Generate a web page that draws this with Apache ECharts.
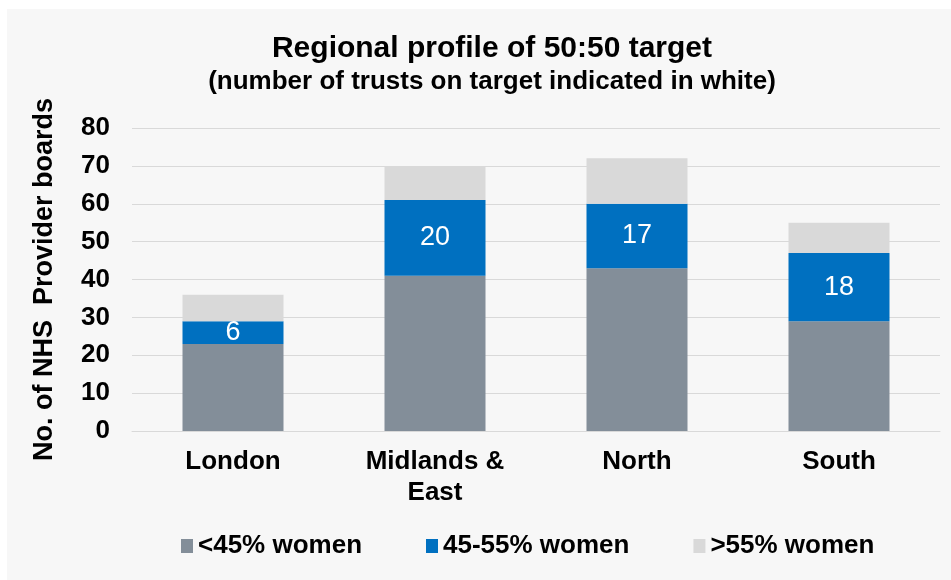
<!DOCTYPE html>
<html>
<head>
<meta charset="utf-8">
<script src="https://cdn.jsdelivr.net/npm/echarts@6/dist/echarts.min.js"></script>
<style>
  body { margin: 0; background: #ffffff; }
  #panel { position: absolute; left: 7px; top: 9px; width: 944px; height: 571px; background: #f7f7f7; }
  #main { position: absolute; left: 0; top: 0; width: 951px; height: 580px; }
</style>
</head>
<body>
<div id="panel"></div>
<div id="main"></div>
<script>
// regions and boards per band
let regions = ["London", "Midlands &\nEast", "North", "South"];
let below45 = [23, 41, 43, 29];
let onTarget = [6, 20, 17, 18];
let above55 = [7, 9, 12, 8];
let seriesNames = ["<45% women", "45-55% women", ">55% women"];
let yTicks = [0, 10, 20, 30, 40, 50, 60, 70, 80];

let chart = echarts.init(document.getElementById("main"));
let font = "Liberation Sans, Arial, sans-serif";

let option = {
    animation: false,
    textStyle: {fontFamily: font},
    title: {
        text: "Regional profile of 50:50 target",
        subtext: "(number of trusts on target indicated in white)",
        left: 487,
        textAlign: "center",
        top: 29,
        itemGap: 5,
        textStyle: {fontSize: 30, fontWeight: "bold", color: "#000", fontFamily: font},
        subtextStyle: {fontSize: 26, fontWeight: "bold", color: "#000", fontFamily: font}
    },
    legend: {
        data: seriesNames,
        left: 176,
        top: 528,
        itemWidth: 12,
        itemHeight: 14,
        itemGap: 64,
        icon: "rect",
        textStyle: {fontSize: 26, fontWeight: "bold", color: "#000", fontFamily: font}
    },
    grid: {left: 132, right: 11, top: 128, bottom: 149},
    xAxis: {
        type: "category",
        data: regions,
        axisTick: {show: false},
        axisLine: {lineStyle: {color: "#d9d9d9"}},
        axisLabel: {fontSize: 26, fontWeight: "bold", color: "#000", margin: 15, lineHeight: 31, fontFamily: font}
    },
    yAxis: {
        type: "value",
        min: yTicks[0],
        max: yTicks[yTicks.length - 1],
        interval: 10,
        name: "No. of NHS  Provider boards",
        nameLocation: "middle",
        nameGap: 74,
        nameTextStyle: {fontSize: 27, fontWeight: "bold", color: "#000", fontFamily: font},
        axisLabel: {fontSize: 26, fontWeight: "bold", color: "#000", margin: 22, fontFamily: font},
        splitLine: {lineStyle: {color: "#d9d9d9", width: 1}}
    },
    series: [
        {
            name: seriesNames[0], type: "bar", stack: "total", barWidth: "50%",
            itemStyle: {color: "#838e99"},
            data: below45
        },
        {
            name: seriesNames[1], type: "bar", stack: "total",
            itemStyle: {color: "#0070c0"},
            label: {show: true, position: "inside", color: "#fff", fontSize: 27, fontFamily: font},
            data: onTarget
        },
        {
            name: seriesNames[2], type: "bar", stack: "total",
            itemStyle: {color: "#d9d9d9"},
            data: above55
        }
    ]
};
chart.setOption(option);
</script>
</body>
</html>
